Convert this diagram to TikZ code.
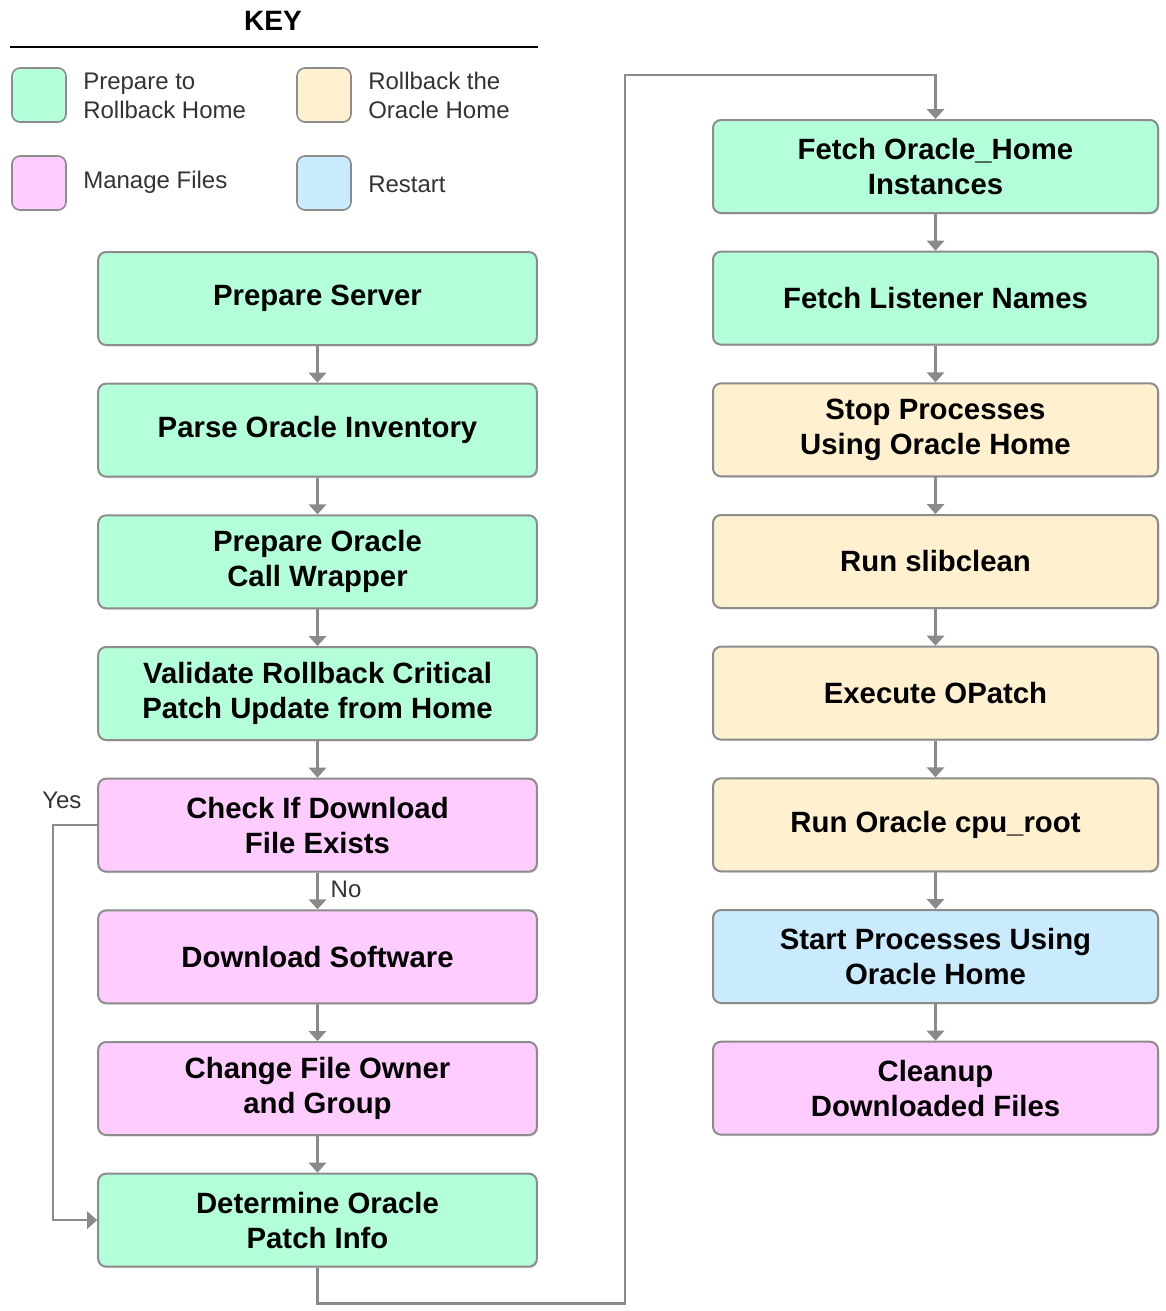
\documentclass[tikz,border=0pt]{standalone}
\usepackage{fontspec}
\setmainfont{Liberation Sans}
\usepackage{tikz}
\usetikzlibrary{arrows.meta,shadows}
\usetikzlibrary{positioning}
\definecolor{prepfill}{HTML}{B3FFD9}
\definecolor{rollfill}{HTML}{FFF0CF}
\definecolor{filesfill}{HTML}{FFCCFF}
\definecolor{restartfill}{HTML}{C9EBFD}
\definecolor{boxline}{HTML}{8C8C8C}
\definecolor{linegray}{HTML}{8A8A8A}
\definecolor{keygray}{HTML}{333333}
\tikzset{
    stepbox/.style={
           rectangle,
           rounded corners=6pt,
           draw=boxline, line width=1.5pt,
           minimum width=329pt,
           minimum height=69.75pt,
           inner sep=2pt,
           align=center,
           font=\fontsize{22}{26.25}\selectfont\bfseries,
           drop shadow={shadow xshift=1pt,shadow yshift=-1pt,opacity=0.25},
           },
    prep/.style={stepbox, fill=prepfill},
    rollback/.style={stepbox, fill=rollfill},
    files/.style={stepbox, fill=filesfill},
    restart/.style={stepbox, fill=restartfill},
    swatch/.style={
           rectangle,
           rounded corners=6pt,
           draw=boxline, line width=1.2pt,
           minimum size=40.5pt,
           inner sep=0pt,
           },
    keytext/.style={anchor=west, align=left, inner sep=0pt, text=keygray,
           font=\fontsize{18}{21.75}\selectfont},
    flow/.style={->, draw=linegray, line width=1.8pt},
}
\begin{document}
\begin{tikzpicture}[x=0.75pt,y=-0.75pt,>={Triangle[width=13pt,length=7.5pt]},node distance=27.5pt]
 \useasboundingbox (0,0) rectangle (1165,1311);

 % key
 \node[font=\fontsize{21}{25}\selectfont\bfseries] (key) at (273,21) {KEY};
 \draw[line width=2.2pt] (10,47) -- (538,47);
 \node[swatch, fill=prepfill] (kprep) at (39,95) {};
 \node[keytext] (lprep) at (83,95.5) {Prepare to\\Rollback Home};
 \node[swatch, fill=rollfill] (kroll) at (324,95) {};
 \node[keytext] (lroll) at (368,95.5) {Rollback the\\Oracle Home};
 \node[swatch, fill=filesfill] (kfiles) at (39,183) {};
 \node[keytext] (lfiles) at (83,182) {Manage Files};
 \node[swatch, fill=restartfill] (krestart) at (324,183) {};
 \node[keytext] (lrestart) at (368,184) {Restart};

 % left column
 \node[prep] (PS) at (317.5,298.5) {Prepare Server};
 \node[prep, below=of PS] (POI) {Parse Oracle Inventory};
 \node[prep, below=of POI] (POC) {Prepare Oracle\\Call Wrapper};
 \node[prep, below=of POC] (VRC) {Validate Rollback Critical\\Patch Update from Home};
 \node[files, below=of VRC] (CDF) {Check If Download\\File Exists};
 \node[files, below=of CDF] (DS) {Download Software};
 \node[files, below=of DS] (CFO) {Change File Owner\\and Group};
 \node[prep, below=of CFO] (DOP) {Determine Oracle\\Patch Info};

 % right column
 \node[prep, minimum width=333.75pt] (FOH) at (935.5,166.5) {Fetch Oracle\_Home\\Instances};
 \node[prep, minimum width=333.75pt, below=of FOH] (FLN) {Fetch Listener Names};
 \node[rollback, minimum width=333.75pt, below=of FLN] (SP) {Stop Processes\\Using Oracle Home};
 \node[rollback, minimum width=333.75pt, below=of SP] (RS) {Run slibclean};
 \node[rollback, minimum width=333.75pt, below=of RS] (EO) {Execute OPatch};
 \node[rollback, minimum width=333.75pt, below=of EO] (RCR) {Run Oracle cpu\_root};
 \node[restart, minimum width=333.75pt, below=of RCR] (SPH) {Start Processes Using\\Oracle Home};
 \node[files, minimum width=333.75pt, below=of SPH] (CDL) {Cleanup\\Downloaded Files};

 \draw[flow] (PS) -- (POI);
 \draw[flow] (POI) -- (POC);
 \draw[flow] (POC) -- (VRC);
 \draw[flow] (VRC) -- (CDF);
 \draw[flow] (CDF) -- node[keytext, right, xshift=9pt, yshift=1pt] (no) {No} (DS);
 \draw[flow] (DS) -- (CFO);
 \draw[flow] (CFO) -- (DOP);
 \draw[flow] (CDF.west) -- ++(-44,0) |- (DOP.west);
 \node[keytext] (yes) at (42,800) {Yes};

 \coordinate (turn) at (625,75);
 \draw[flow] (DOP.south) -- ++(0,36) -| (turn) -| (FOH.north);

 \draw[flow] (FOH) -- (FLN);
 \draw[flow] (FLN) -- (SP);
 \draw[flow] (SP) -- (RS);
 \draw[flow] (RS) -- (EO);
 \draw[flow] (EO) -- (RCR);
 \draw[flow] (RCR) -- (SPH);
 \draw[flow] (SPH) -- (CDL);

\end{tikzpicture}
\end{document}
